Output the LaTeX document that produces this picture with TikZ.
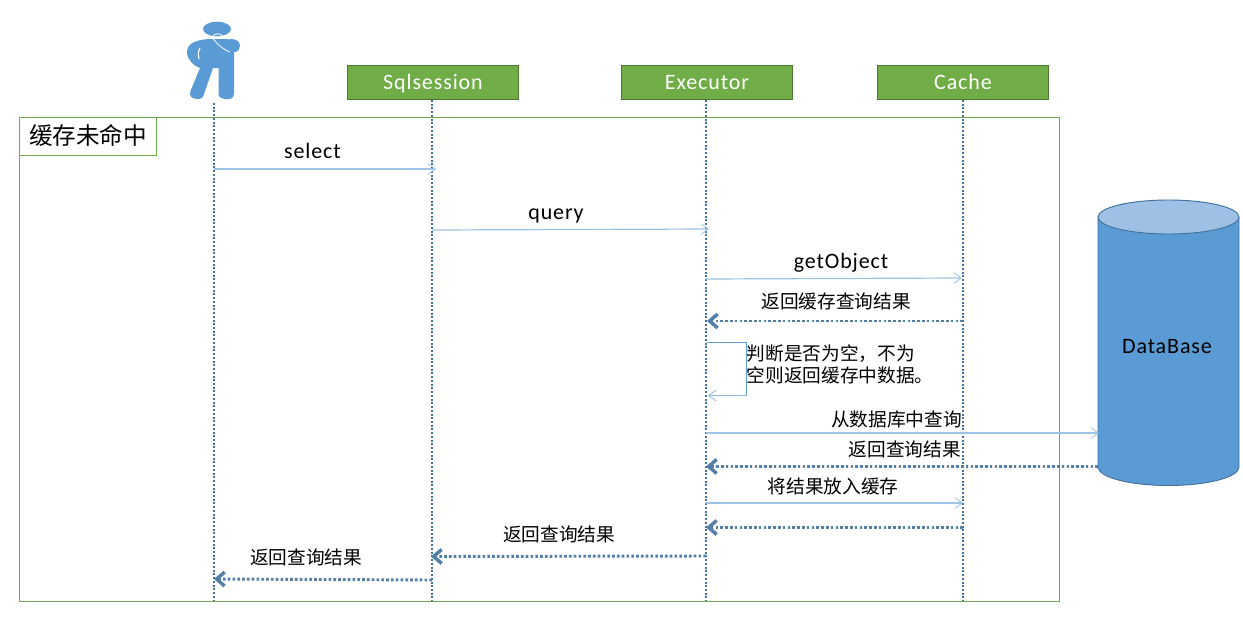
\documentclass[tikz,border=0pt]{standalone}
\usepackage{fontspec}
\setmainfont[LetterSpace=4]{Carlito}
\newfontfamily\cjk{Noto Sans CJK SC}
\usetikzlibrary{arrows.meta}
\definecolor{lifeblue}{HTML}{41719C}
\definecolor{callblue}{HTML}{9DC3E6}
\definecolor{fillblue}{HTML}{5B9BD5}
\definecolor{topblue}{HTML}{9DC0E4}
\definecolor{boxgreen}{HTML}{70AD47}
\tikzset{
  x=0.75pt,y=-0.75pt,
  actorbox/.style={draw=boxgreen!70!black,line width=0.6pt,fill=boxgreen,minimum width=128.4pt,minimum height=25.5pt,inner sep=0pt,text height=12pt,text depth=1.5pt,font=\fontsize{16.5pt}{18pt}\selectfont,text=white},
  lifeline/.style={draw=lifeblue,line width=1.1pt,dash pattern=on 1.5pt off 1.3pt},
  callarrow/.style={draw=callblue,line width=0.9pt,-{Straight Barb[length=5.5pt,width=8pt,line width=0.6pt]}},
  returnarrow/.style={draw=lifeblue!90,line width=2.2pt,dash pattern=on 2pt off 1.6pt,-{Straight Barb[length=6pt,width=10.5pt,line width=2.6pt]}},
  msg/.style={inner sep=0pt,font=\fontsize{16.5pt}{18pt}\selectfont},
  cnmsg/.style={inner sep=0pt,font=\cjk\fontsize{14pt}{16.5pt}\selectfont,align=left},
}
\begin{document}
\begin{tikzpicture}
\useasboundingbox (0,0) rectangle (1243,639);
\fill[white] (0,0) rectangle (1243,639);
% frame
\node[draw=boxgreen!85!gray,line width=0.7pt,minimum width=780pt,minimum height=363pt,inner sep=0pt,anchor=north west] (frame) at (19,117) {};
\node[draw=boxgreen,line width=0.7pt,fill=white,minimum width=103pt,minimum height=28.5pt,inner sep=0pt,text height=15pt,text depth=2.5pt,anchor=north west,font=\cjk\fontsize{17.7pt}{20pt}\selectfont] (tag) at (19,117) {缓存未命中};
% person
\fill[fillblue] (217,29) ellipse (14 and 7.3);
\fill[fillblue] (212,39) .. controls (200,39) and (187,42) .. (187,52)
  .. controls (187,60) and (194,66) .. (200,68)
  -- (190.5,91) .. controls (188.5,96) and (192,99) .. (197,99)
  .. controls (201,99) and (203,98) .. (204,94)
  -- (213,68) -- (218.5,68) -- (218.5,93) .. controls (218.5,98) and (222,99) .. (225,99)
  -- (228,99) .. controls (232,99) and (234,97) .. (234,93)
  -- (234,52) .. controls (238,52) and (240,49) .. (240,46)
  .. controls (240,41) and (236,39) .. (230,39) -- cycle;
\draw[white,line width=0.8pt] (200,48) .. controls (198,52) and (198,55) .. (199,59);
\draw[white,line width=0.6pt] (212,37) .. controls (215,33) and (219,33) .. (222,35.5) .. controls (226,39) and (228,39) .. (230,39);
\draw[white,line width=0.6pt] (212,37) .. controls (216,43) and (222,49) .. (230,52);
% actors
\node[actorbox] (sql) at (433,82.5) {Sqlsession};
\node[actorbox] (exec) at (707,82.5) {Executor};
\node[actorbox] (cache) at (963,82.5) {Cache};
\coordinate (uTop) at (214,103);
\coordinate (uBot) at (214,601);
\coordinate (sBot) at (432,601);
\coordinate (eBot) at (706,601);
\coordinate (cBot) at (963,601);
\draw[lifeline] (uTop) -- (uBot);
\draw[lifeline] (sql.south -| sBot) -- (sBot);
\draw[lifeline] (exec.south -| eBot) -- (eBot);
\draw[lifeline] (cache.south) -- (cBot);
% database
\fill[fillblue] (1098,217) -- (1098,467) arc[start angle=180,end angle=0,x radius=70.5,y radius=18.5] -- (1239,217) -- cycle;
\node[inner sep=0pt,font=\fontsize{16.5pt}{18pt}\selectfont] (db) at (1167,347) {DataBase};
\draw[lifeblue,line width=0.7pt] (1098,217) -- (1098,467) arc[start angle=180,end angle=0,x radius=70.5,y radius=18.5] -- (1239,217);
\draw[lifeblue,line width=0.7pt,fill=topblue] (1168.5,217) ellipse (70.5 and 17);
% calls
\coordinate (u1) at (214,169); \coordinate (s1) at (436,169);
\coordinate (s2) at (432,230); \coordinate (e2) at (709,229);
\coordinate (e3) at (706,279); \coordinate (c3) at (962,278);
\draw[callarrow] (u1) -- (s1);
\draw[callarrow] (s2) -- (e2);
\draw[callarrow] (e3) -- (c3);
\node[msg,text=black] (tSel) at (312.5,151) {select};
\node[msg] (tQ) at (556,216) {query};
\node[msg] (tGet) at (841,263) {getObject};
\coordinate (c4) at (963,321); \coordinate (e4) at (707,321);
\draw[returnarrow] (c4) -- (e4);
\node[cnmsg] (t4) at (836,301) {返回缓存查询结果};
\coordinate (e5a) at (707,342.5); \coordinate (e5b) at (708,395.5);
\coordinate (bendA) at (746.5,342.5); \coordinate (bendB) at (746.5,395.5);
\draw[draw=fillblue,line width=0.7pt] (e5a) -- (bendA) -- (bendB);
\draw[callarrow,draw=fillblue!70,line width=0.7pt] (bendB) -- (e5b);
\node[cnmsg,anchor=west] (t5) at (746.5,364) {判断是否为空，不为\\空则返回缓存中数据。};
\coordinate (e6) at (706,433);
\draw[callarrow] (e6) -- (1099,433);
\node[cnmsg,anchor=east] (t6) at (962,419) {从数据库中查询};
\coordinate (d7) at (1098,466.5); \coordinate (e7) at (706,466.5);
\draw[returnarrow] (d7) -- (e7);
\node[cnmsg,anchor=east] (t7) at (961,449) {返回查询结果};
\coordinate (e8) at (706,503); \coordinate (c8) at (963,503);
\draw[callarrow] (e8) -- (c8);
\node[cnmsg] (t8) at (833,486) {将结果放入缓存};
\coordinate (c9) at (963,527.5); \coordinate (e9) at (706,527.5);
\draw[returnarrow] (c9) -- (e9);
\coordinate (e10) at (706,556); \coordinate (s10) at (431,556.5);
\draw[returnarrow] (e10) -- (s10);
\node[cnmsg] (t10) at (559,534) {返回查询结果};
\coordinate (s11) at (432,580); \coordinate (u11) at (214,579);
\draw[returnarrow] (s11) -- (u11);
\node[cnmsg] (t11) at (306,557) {返回查询结果};
\end{tikzpicture}
\end{document}
